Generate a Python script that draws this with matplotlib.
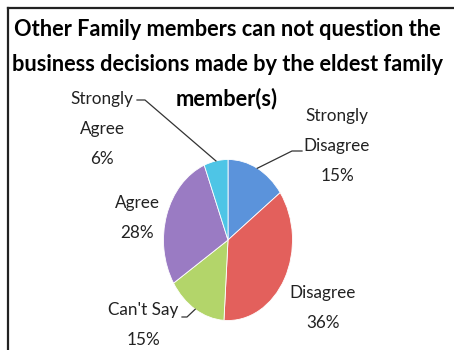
import matplotlib.pyplot as plt
import numpy as np
from matplotlib.lines import Line2D

categories = ['Strongly\nDisagree', 'Disagree', "Can't Say", 'Agree', 'Strongly\nAgree']
shares = [15, 36, 15, 28, 6]
colors = ['#5B93DB', '#E3605C', '#B3D56A', '#9A7BC3', '#4EC5E6']
title_lines = ['Other Family members can not question the',
               'business decisions made by the eldest family',
               'member(s)']

W, H = 454, 350
fig = plt.figure(figsize=(W / 100, H / 100), dpi=100)
fig.patch.set_facecolor('white')

# pie axes spans the (slightly stretched) ellipse of the pie
cx, cy, rx, ry = 228, 240, 64.5, 80.5
ax = fig.add_axes([(cx - rx) / W, (H - cy - ry) / H, 2 * rx / W, 2 * ry / H])
wedges, _ = ax.pie(shares, colors=colors, startangle=90, counterclock=False,
                   radius=1, wedgeprops=dict(edgecolor='white', linewidth=0.6))
ax.set_aspect('auto')
ax.set_xlim(-1, 1)
ax.set_ylim(-1, 1)
ax.axis('off')

# label centres in figure pixels (x, y from top)
label_pos = [(337, 146), (323, 308), (143, 325), (137, 218), (102, 129)]
# leader lines: label-side start point and the short horizontal stub
leaders = {0: ((302, 151), -10), 2: ((182, 317), 5), 4: ((137, 100), 8)}

font = 'Lato'
for i, (name, val) in enumerate(zip(categories, shares)):
    lx, ly = label_pos[i]
    fig.text(lx / W, 1 - ly / H, f'{name}\n{val}%', ha='center', va='center',
             fontsize=12.3, family=font, linespacing=2.05, color='#222222')

# leader lines to the middle of each wedge's outer edge
cum = np.cumsum([0] + shares)
for i, ((sx, sy), stub) in leaders.items():
    mid = 90 - (cum[i] + shares[i] / 2) / 100 * 360
    ex = cx + rx * np.cos(np.radians(mid))
    ey = cy - ry * np.sin(np.radians(mid))
    xs, ys = [sx, sx + stub, ex], [sy, sy, ey]
    fig.add_artist(Line2D([x / W for x in xs], [1 - y / H for y in ys],
                          color='#333333', lw=0.9))

# title, one line at a time
for k, line in enumerate(title_lines):
    fig.text(0.5, 1 - (30 + 34.5 * k) / H, line, ha='center', va='center',
             fontsize=15.7, fontweight='bold', family=font, color='black')

# frame lines along top and left edges
fig.add_artist(Line2D([8 / W, 1], [1 - 8 / H, 1 - 8 / H], color='#222222', lw=1.6))
fig.add_artist(Line2D([8 / W, 8 / W], [0, 1 - 8 / H], color='#222222', lw=1.6))

fig.savefig('out.png', dpi=100)
